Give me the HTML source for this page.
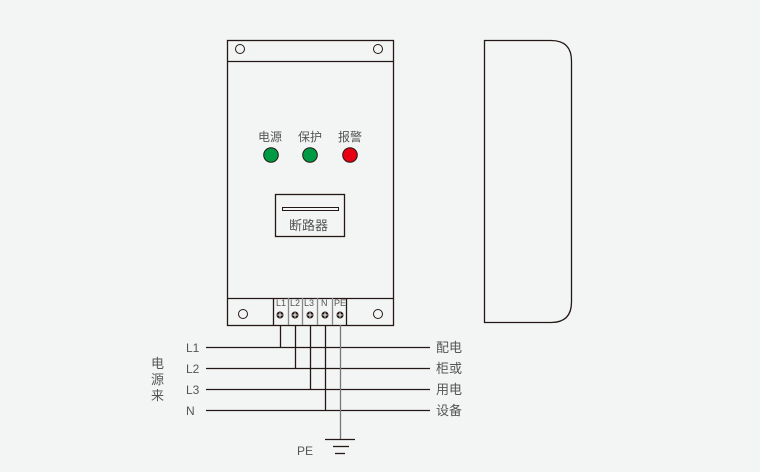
<!DOCTYPE html>
<html><head><meta charset="utf-8"><style>
body{margin:0;background:#f3f5f4;}
svg{display:block}
text{font-family:"Liberation Sans","Noto Sans CJK SC",sans-serif;fill:#555;}
</style></head><body>
<svg width="760" height="472" viewBox="0 0 760 472" xmlns="http://www.w3.org/2000/svg">
<rect x="0" y="0" width="760" height="472" fill="#f3f5f4"/>
<g stroke="#231815" fill="none" stroke-width="1.3">
<rect x="227.5" y="40.5" width="166" height="285"/>
<line x1="227" y1="61.5" x2="394" y2="61.5"/>
<line x1="227" y1="298.5" x2="394" y2="298.5"/>
<circle cx="240" cy="49" r="4.5" stroke-width="1"/>
<circle cx="378" cy="49" r="4.5" stroke-width="1"/>
<circle cx="243" cy="314" r="4.5" stroke-width="1"/>
<circle cx="378" cy="314" r="4.5" stroke-width="1"/>
<line x1="273.5" y1="298" x2="273.5" y2="325"/>
<line x1="288.5" y1="298" x2="288.5" y2="325" stroke="#888"/>
<line x1="302.5" y1="298" x2="302.5" y2="325" stroke="#888"/>
<line x1="317.5" y1="298" x2="317.5" y2="325" stroke="#888"/>
<line x1="332.5" y1="298" x2="332.5" y2="325" stroke="#888"/>
<line x1="346.5" y1="298" x2="346.5" y2="325"/>
<rect x="275.5" y="194.5" width="69" height="42"/>
<rect x="282.5" y="207.5" width="56" height="3" stroke-width="1"/>
<path d="M484.5 40.5 H551 Q571.5 40.5 571.5 61 V302 Q571.5 322.5 551 322.5 H484.5 Z"/>
</g>
<g fill="#231815">
<circle cx="280" cy="315" r="3.5"/><circle cx="295" cy="315" r="3.5"/><circle cx="310" cy="315" r="3.5"/><circle cx="325" cy="315" r="3.5"/><circle cx="340" cy="315" r="3.5"/>
</g>
<g stroke="#fff" stroke-width="1">
<path d="M277.5 315h5M280 312.5v5M292.5 315h5M295 312.5v5M307.5 315h5M310 312.5v5M322.5 315h5M325 312.5v5M337.5 315h5M340 312.5v5"/>
</g>
<g font-size="9">
<text x="276" y="306">L1</text><text x="290" y="306">L2</text><text x="304" y="306">L3</text><text x="321" y="306">N</text><text x="334" y="306">PE</text>
</g>
<circle cx="271" cy="155" r="7.3" fill="#009944" stroke="#231815"/>
<circle cx="310" cy="155" r="7.3" fill="#009944" stroke="#231815"/>
<circle cx="350" cy="155" r="7.3" fill="#e60012" stroke="#231815"/>
<g font-size="12">
<text x="258" y="141">电源</text><text x="298" y="141">保护</text><text x="338" y="141">报警</text>
<text x="289" y="230" font-size="13">断路器</text>
</g>
<g stroke="#231815" stroke-width="1.3">
<line x1="206" y1="347.5" x2="430" y2="347.5"/>
<line x1="206" y1="368.5" x2="430" y2="368.5"/>
<line x1="206" y1="389.5" x2="430" y2="389.5"/>
<line x1="206" y1="410.5" x2="430" y2="410.5"/>
<line x1="280.5" y1="325" x2="280.5" y2="347"/>
<line x1="295.5" y1="325" x2="295.5" y2="368"/>
<line x1="310.5" y1="325" x2="310.5" y2="389"/>
<line x1="325.5" y1="325" x2="325.5" y2="410"/>
<line x1="340.5" y1="325" x2="340.5" y2="439" stroke="#777"/>
<line x1="325" y1="439.5" x2="355" y2="439.5"/>
<line x1="333" y1="446.5" x2="349" y2="446.5"/>
<line x1="335" y1="453.5" x2="345" y2="453.5"/>
</g>
<g font-size="12">
<text x="186" y="352">L1</text><text x="186" y="373">L2</text><text x="186" y="394">L3</text><text x="186" y="415">N</text>
<text x="297" y="455">PE</text>
<text x="436" y="352" font-size="13">配电</text><text x="436" y="373" font-size="13">柜或</text><text x="436" y="394" font-size="13">用电</text><text x="436" y="415" font-size="13">设备</text>
<text x="151" y="368" font-size="13">电</text><text x="151" y="384" font-size="13">源</text><text x="151" y="400" font-size="13">来</text>
</g>
</svg>
</body></html>
